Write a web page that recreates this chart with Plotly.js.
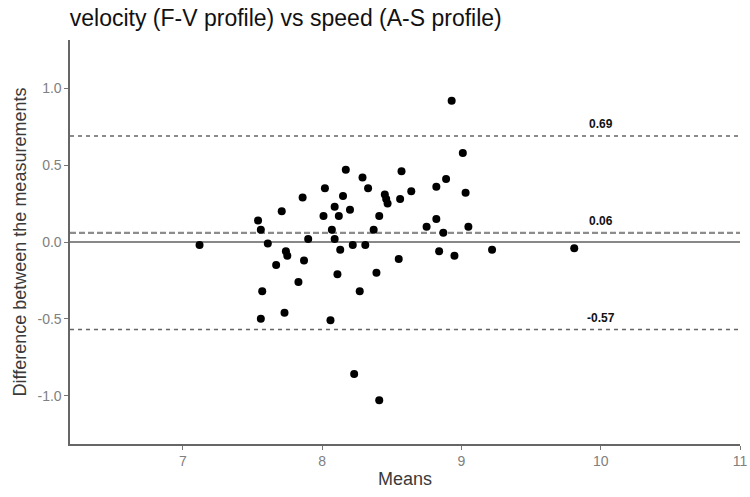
<!DOCTYPE html>
<html>
<head>
<meta charset="utf-8">
<script src="https://cdn.plot.ly/plotly-3.0.1.min.js"></script>
<style>html,body{margin:0;padding:0;background:#fff;}#chart{width:750px;height:497px;}</style>
</head>
<body>
<div id="chart"></div>
<script>
// Means of the two measurements
var means = [7.12, 7.54, 7.56, 7.61, 7.71, 7.74, 7.75, 7.86, 7.87, 7.90,
  8.02, 8.01, 8.07, 8.09, 8.09, 8.12, 8.15, 8.17, 8.20, 8.13,
  8.22, 8.29, 8.33, 8.31, 8.37, 8.41, 8.93, 8.57, 9.01, 8.89,
  8.82, 9.03, 8.64, 8.45, 8.46, 8.47, 8.56, 8.82, 8.75, 9.05,
  8.87, 8.84, 8.95, 9.22, 8.55, 7.67, 8.11, 7.83, 7.57, 8.27,
  8.39, 7.73, 7.56, 8.06, 8.23, 8.41, 9.81];
// Differences between the measurements
var diffs = [-0.02, 0.14, 0.08, -0.01, 0.20, -0.06, -0.09, 0.29, -0.12, 0.02,
  0.35, 0.17, 0.08, 0.23, 0.02, 0.17, 0.30, 0.47, 0.21, -0.05,
  -0.02, 0.42, 0.35, -0.02, 0.08, 0.17, 0.92, 0.46, 0.58, 0.41,
  0.36, 0.32, 0.33, 0.31, 0.28, 0.25, 0.28, 0.15, 0.10, 0.10,
  0.06, -0.06, -0.09, -0.05, -0.11, -0.15, -0.21, -0.26, -0.32, -0.32,
  -0.20, -0.46, -0.50, -0.51, -0.86, -1.03, -0.04];
var biasValue = 0.06;
var upperLoA = 0.69;
var lowerLoA = -0.57;
var labelX = 10.0;
var xTicks = [7, 8, 9, 10, 11];
var yTicks = [-1.0, -0.5, 0.0, 0.5, 1.0];
var yTickText = ["-1.0", "-0.5", "0.0", "0.5", "1.0"];

var FONT = 'Liberation Sans, Arial, sans-serif';

var trace = {
  x: means, y: diffs, type: 'scatter', mode: 'markers',
  marker: {color: '#000000', size: 8}, hoverinfo: 'x+y', showlegend: false
};

function hline(y, color, width, dash) {
  return {type: 'line', xref: 'paper', x0: 0, x1: 1, yref: 'y', y0: y, y1: y,
    line: {color: color, width: width, dash: dash}, layer: 'below'};
}
function label(y, txt) {
  return {x: labelX, y: y, xref: 'x', yref: 'y', text: '<b>' + txt + '</b>',
    showarrow: false, yanchor: 'bottom', yshift: 3,
    font: {family: FONT, size: 12, color: '#111'}};
}

var layout = {
  width: 750, height: 497,
  margin: {l: 70, r: 10, t: 40, b: 53},
  paper_bgcolor: '#fff', plot_bgcolor: '#fff',
  font: {family: FONT, color: '#4d4d4d'},
  title: {text: 'velocity (F-V profile) vs speed (A-S profile)', x: 0.093, xanchor: 'left',
    y: 0.964, yanchor: 'middle',
    font: {family: FONT, size: 23, color: '#111'}},
  xaxis: {range: [6.19, 11.0], tickvals: xTicks, ticktext: xTicks.map(String),
    showgrid: false, zeroline: false, showline: true, linecolor: '#666', linewidth: 1.6,
    ticks: 'outside', ticklen: 4, tickcolor: '#777', tickwidth: 1,
    tickfont: {size: 14, color: '#808080'},
    title: {text: 'Means', font: {size: 18, color: '#3a3a3a'}, standoff: 4}},
  yaxis: {range: [-1.315, 1.315], tickvals: yTicks, ticktext: yTickText,
    showgrid: false, zeroline: false, showline: true, linecolor: '#666', linewidth: 1.6,
    ticks: 'outside', ticklen: 4, tickcolor: '#777', tickwidth: 1,
    tickfont: {size: 14, color: '#808080'},
    title: {text: 'Difference between the measurements', font: {size: 18, color: '#3a3a3a'}, standoff: 6}},
  shapes: [
    hline(0, '#888', 2, 'solid'),
    hline(biasValue, '#8c8c8c', 2.2, '6px,3px'),
    hline(upperLoA, '#666', 1.4, '4px,4px'),
    hline(lowerLoA, '#666', 1.4, '4px,4px')
  ],
  annotations: [
    label(upperLoA, upperLoA.toFixed(2)),
    label(biasValue, biasValue.toFixed(2)),
    label(lowerLoA, lowerLoA.toFixed(2))
  ]
};

Plotly.newPlot('chart', [trace], layout, {displayModeBar: false, staticPlot: true});
</script>
</body>
</html>
